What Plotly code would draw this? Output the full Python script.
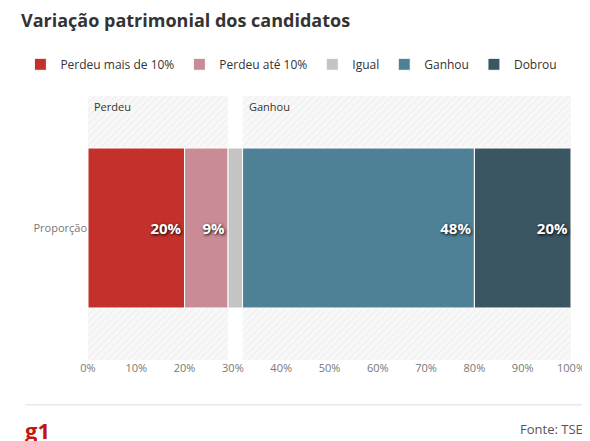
import plotly.graph_objects as go

categorias = ["Perdeu mais de 10%", "Perdeu até 10%", "Igual", "Ganhou", "Dobrou"]
valores = [20, 9, 3, 48, 20]
rotulos = ["20%", "9%", "", "48%", "20%"]
cores = ["#c4302b", "#c98b95", "#c4c4c4", "#4f8196", "#3a5663"]
grupos = ["Perdeu", "Ganhou"]
grupo_ini = [0, 32]
grupo_tam = [29, 68]
ticks = list(range(0, 101, 10))

fig = go.Figure()

# fundo hachurado dos grupos
for g, b, t in zip(grupos, grupo_ini, grupo_tam):
    fig.add_trace(go.Bar(
        y=["Proporção"], x=[t], base=[b], orientation="h", width=1,
        marker=dict(color="#ffffff", line=dict(width=0),
                    pattern=dict(shape="/", fgcolor="#e2e2e2", bgcolor="#f8f8f8", size=5, solidity=0.2)),
        showlegend=False, hoverinfo="skip"))
    fig.add_annotation(x=b, y=0.5, xref="x", yref="y", text=g, showarrow=False,
                       xanchor="left", yanchor="top", xshift=4, yshift=-1,
                       font=dict(size=11, color="#333"))

inicio = 0
for c, v, r, cor in zip(categorias, valores, rotulos, cores):
    fig.add_trace(go.Bar(
        y=["Proporção"], x=[v], base=[inicio], orientation="h", width=0.606,
        name=c, marker=dict(color=cor, line=dict(color="white", width=1)),
        text=[r], textposition="inside", insidetextanchor="end",
        textfont=dict(size=15, color="white", family="Open Sans", weight="bold", shadow="1px 1px 3px #000")))
    inicio += v

fig.update_layout(
    width=590, height=441, barmode="overlay",
    plot_bgcolor="white", paper_bgcolor="white",
    font=dict(family="Open Sans", color="#666"),
    margin=dict(l=78, r=27, t=88, b=89),
    title=dict(text="<b>Variação patrimonial dos candidatos</b>", x=0.022, xanchor="left",
               y=0.985, yanchor="top", font=dict(size=18, color="#333")),
    legend=dict(orientation="h", x=-0.14, y=1.175, xanchor="left", yanchor="top",
                font=dict(size=12, color="#333"), traceorder="normal",
                itemwidth=30, tracegroupgap=0),
    xaxis=dict(range=[0, 100], tickvals=ticks, ticktext=[f"{t}%" for t in ticks], automargin=False,
               showgrid=False, zeroline=False, tickfont=dict(size=11, color="#777")),
    yaxis=dict(range=[-0.5, 0.5], tickfont=dict(size=11, color="#777"), showgrid=False, automargin=False),
)
fig.add_shape(type="line", xref="paper", yref="paper", x0=-0.13, x1=1.03, y0=-0.17, y1=-0.17,
              line=dict(color="#ddd", width=1))
fig.add_annotation(xref="paper", yref="paper", x=-0.135, y=-0.2, text="<b>g1</b>", showarrow=False,
                   xanchor="left", yanchor="top", font=dict(size=22, color="#c4170c"))
fig.add_annotation(xref="paper", yref="paper", x=1.03, y=-0.22, text="Fonte: TSE", showarrow=False,
                   xanchor="right", yanchor="top", font=dict(size=13, color="#555"))

fig.write_html("out.html")
